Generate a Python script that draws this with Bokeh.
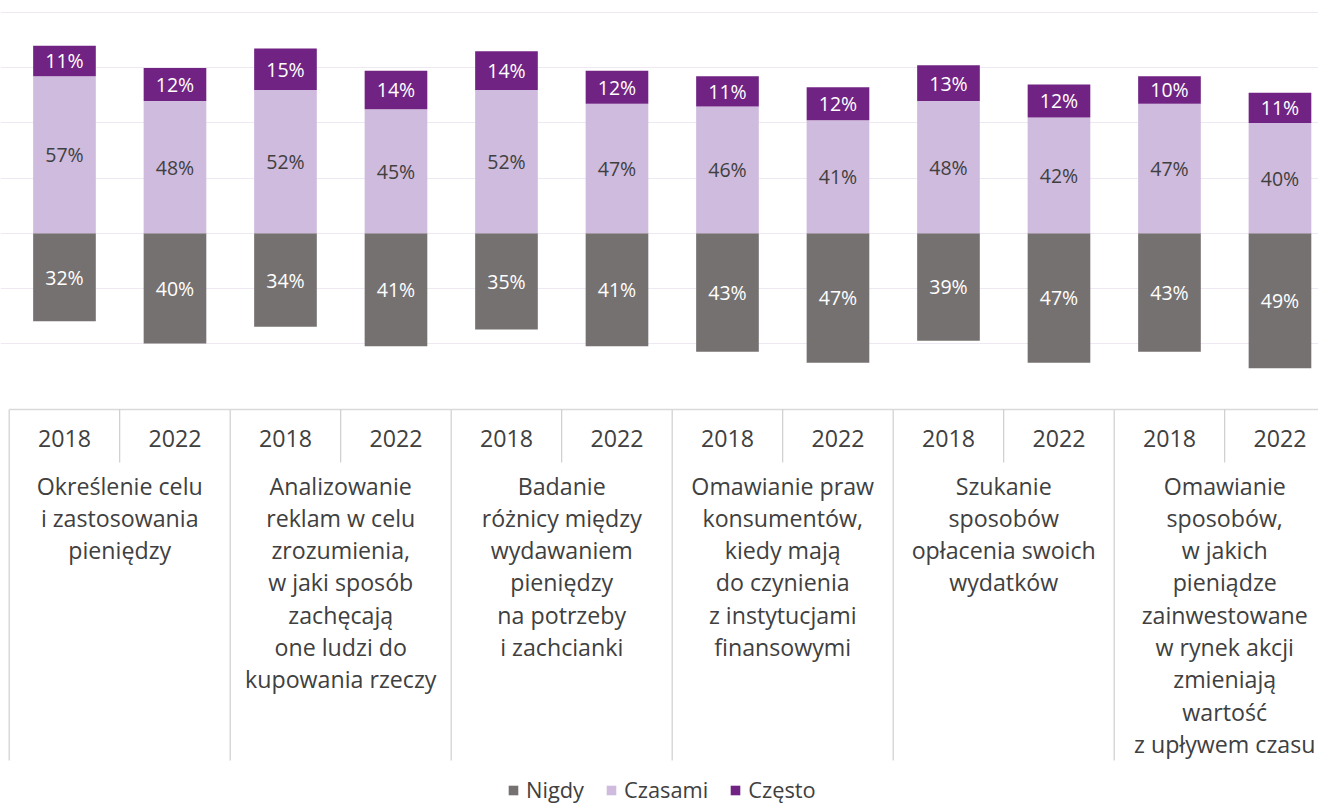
from bokeh.plotting import figure
from bokeh.models import ColumnDataSource, Range1d, Grid, FixedTicker, Legend, LegendItem
from bokeh.core.properties import value
from bokeh.embed import file_html
from bokeh.resources import INLINE

# ---------------- data ----------------
groups = [
    "Określenie celu\ni zastosowania\npieniędzy",
    "Analizowanie\nreklam w celu\nzrozumienia,\nw jaki sposób\nzachęcają\none ludzi do\nkupowania rzeczy",
    "Badanie\nróżnicy między\nwydawaniem\npieniędzy\nna potrzeby\ni zachcianki",
    "Omawianie praw\nkonsumentów,\nkiedy mają\ndo czynienia\nz instytucjami\nfinansowymi",
    "Szukanie\nsposobów\nopłacenia swoich\nwydatków",
    "Omawianie\nsposobów,\nw jakich\npieniądze\nzainwestowane\nw rynek akcji\nzmieniają\nwartość\nz upływem czasu",
]
years = ["2018", "2022"]
series_names = ["Nigdy", "Czasami", "Często"]
nigdy = [32, 40, 34, 41, 35, 41, 43, 47, 39, 47, 43, 49]
czasami = [57, 48, 52, 45, 52, 47, 46, 41, 48, 42, 47, 40]
czesto = [11, 12, 15, 14, 14, 12, 11, 12, 13, 12, 10, 11]
grid_ticks = [-40, -20, 0, 20, 40, 60, 80]

# ---------------- styles ----------------
C_NIGDY = "#767171"
C_CZASAMI = "#CFBBDD"
C_CZESTO = "#702383"
TXT = "#404040"
FONT_NAME = "Open Sans"
FONT = value(FONT_NAME)

n = len(nigdy)
xs = [i + 0.5 for i in range(n)]
src = ColumnDataSource(dict(
    x=xs,
    year=[years[i % len(years)] for i in range(n)],
    n_bottom=[-v for v in nigdy], n_top=[0] * n,
    c_bottom=[0] * n, c_top=czasami,
    s_bottom=czasami, s_top=[c + s for c, s in zip(czasami, czesto)],
    n_mid=[-v / 2 for v in nigdy],
    c_mid=[v / 2 for v in czasami],
    s_mid=[c + s / 2 for c, s in zip(czasami, czesto)],
    n_lab=[f"{v}%" for v in nigdy],
    c_lab=[f"{v}%" for v in czasami],
    s_lab=[f"{v}%" for v in czesto],
))

W, H = 1318, 804
PX_PER_SLOT = 110.5
PX_PER_PCT = 2.755
x0 = -0.079
y_top = 84.46

p = figure(width=W, height=H, output_backend="svg", toolbar_location=None,
           x_range=Range1d(x0, x0 + W / PX_PER_SLOT),
           y_range=Range1d(y_top - H / PX_PER_PCT, y_top),
           x_axis_type=None, y_axis_type=None, min_border=0,
           outline_line_color=None, background_fill_color="white",
           border_fill_color="white")
p.extra_y_ranges = {"tbl": Range1d(start=H, end=0)}

p.add_layout(Grid(dimension=1, ticker=FixedTicker(ticks=grid_ticks),
                  grid_line_color="#EDE8F2", grid_line_width=1))

bw = 0.567
r_n = p.vbar(x="x", width=bw, bottom="n_bottom", top="n_top", source=src,
             fill_color=C_NIGDY, line_color=None)
r_c = p.vbar(x="x", width=bw, bottom="c_bottom", top="c_top", source=src,
             fill_color=C_CZASAMI, line_color=None)
r_s = p.vbar(x="x", width=bw, bottom="s_bottom", top="s_top", source=src,
             fill_color=C_CZESTO, line_color=None)

lab_kw = dict(source=src, text_align="center", text_baseline="middle",
              text_font=FONT, text_font_size="19.5px")
p.text(x="x", y="n_mid", text="n_lab", text_color="white", **lab_kw)
p.text(x="x", y="c_mid", text="c_lab", text_color=TXT, **lab_kw)
p.text(x="x", y="s_mid", text="s_lab", text_color="white", **lab_kw)

# ---------------- category table ----------------
ng = len(groups)
TBL_TOP, TBL_BOT, YEAR_BOT = 409, 760, 462
gx = [2 * g for g in range(ng + 1)]
yx = [2 * g + 1 for g in range(ng)]
p.segment(x0=[0], y0=[TBL_TOP], x1=[n], y1=[TBL_TOP], y_range_name="tbl",
          line_color="#D9D9D9", line_width=1.5)
p.segment(x0=gx, y0=[TBL_TOP] * len(gx), x1=gx, y1=[TBL_BOT] * len(gx),
          y_range_name="tbl", line_color="#D9D9D9", line_width=1.5)
p.segment(x0=yx, y0=[TBL_TOP] * len(yx), x1=yx, y1=[YEAR_BOT] * len(yx),
          y_range_name="tbl", line_color="#C4C4C4", line_width=1)

p.text(x="x", y=438, text="year", source=src, y_range_name="tbl",
       text_align="center", text_baseline="middle", text_font=FONT,
       text_font_size="23.2px", text_color=TXT)
p.text(x=[2 * g + 1 for g in range(ng)], y=[469] * ng, text=groups,
       y_range_name="tbl", text_align="center", text_baseline="top",
       text_font=FONT, text_font_size="23.2px", text_color=TXT,
       text_line_height=1.01)

# ---------------- legend ----------------
legend = Legend(items=[LegendItem(label=series_names[0], renderers=[r_n]),
                       LegendItem(label=series_names[1], renderers=[r_c]),
                       LegendItem(label=series_names[2], renderers=[r_s])],
                orientation="horizontal", location=(507, 0),
                glyph_width=12, glyph_height=12, label_standoff=7, spacing=21,
                padding=0, margin=0, border_line_color=None,
                background_fill_alpha=0, label_text_font=FONT_NAME,
                label_text_font_size="21.8px", label_text_color=TXT)
p.add_layout(legend)

open("out.html", "w").write(file_html(p, INLINE))
